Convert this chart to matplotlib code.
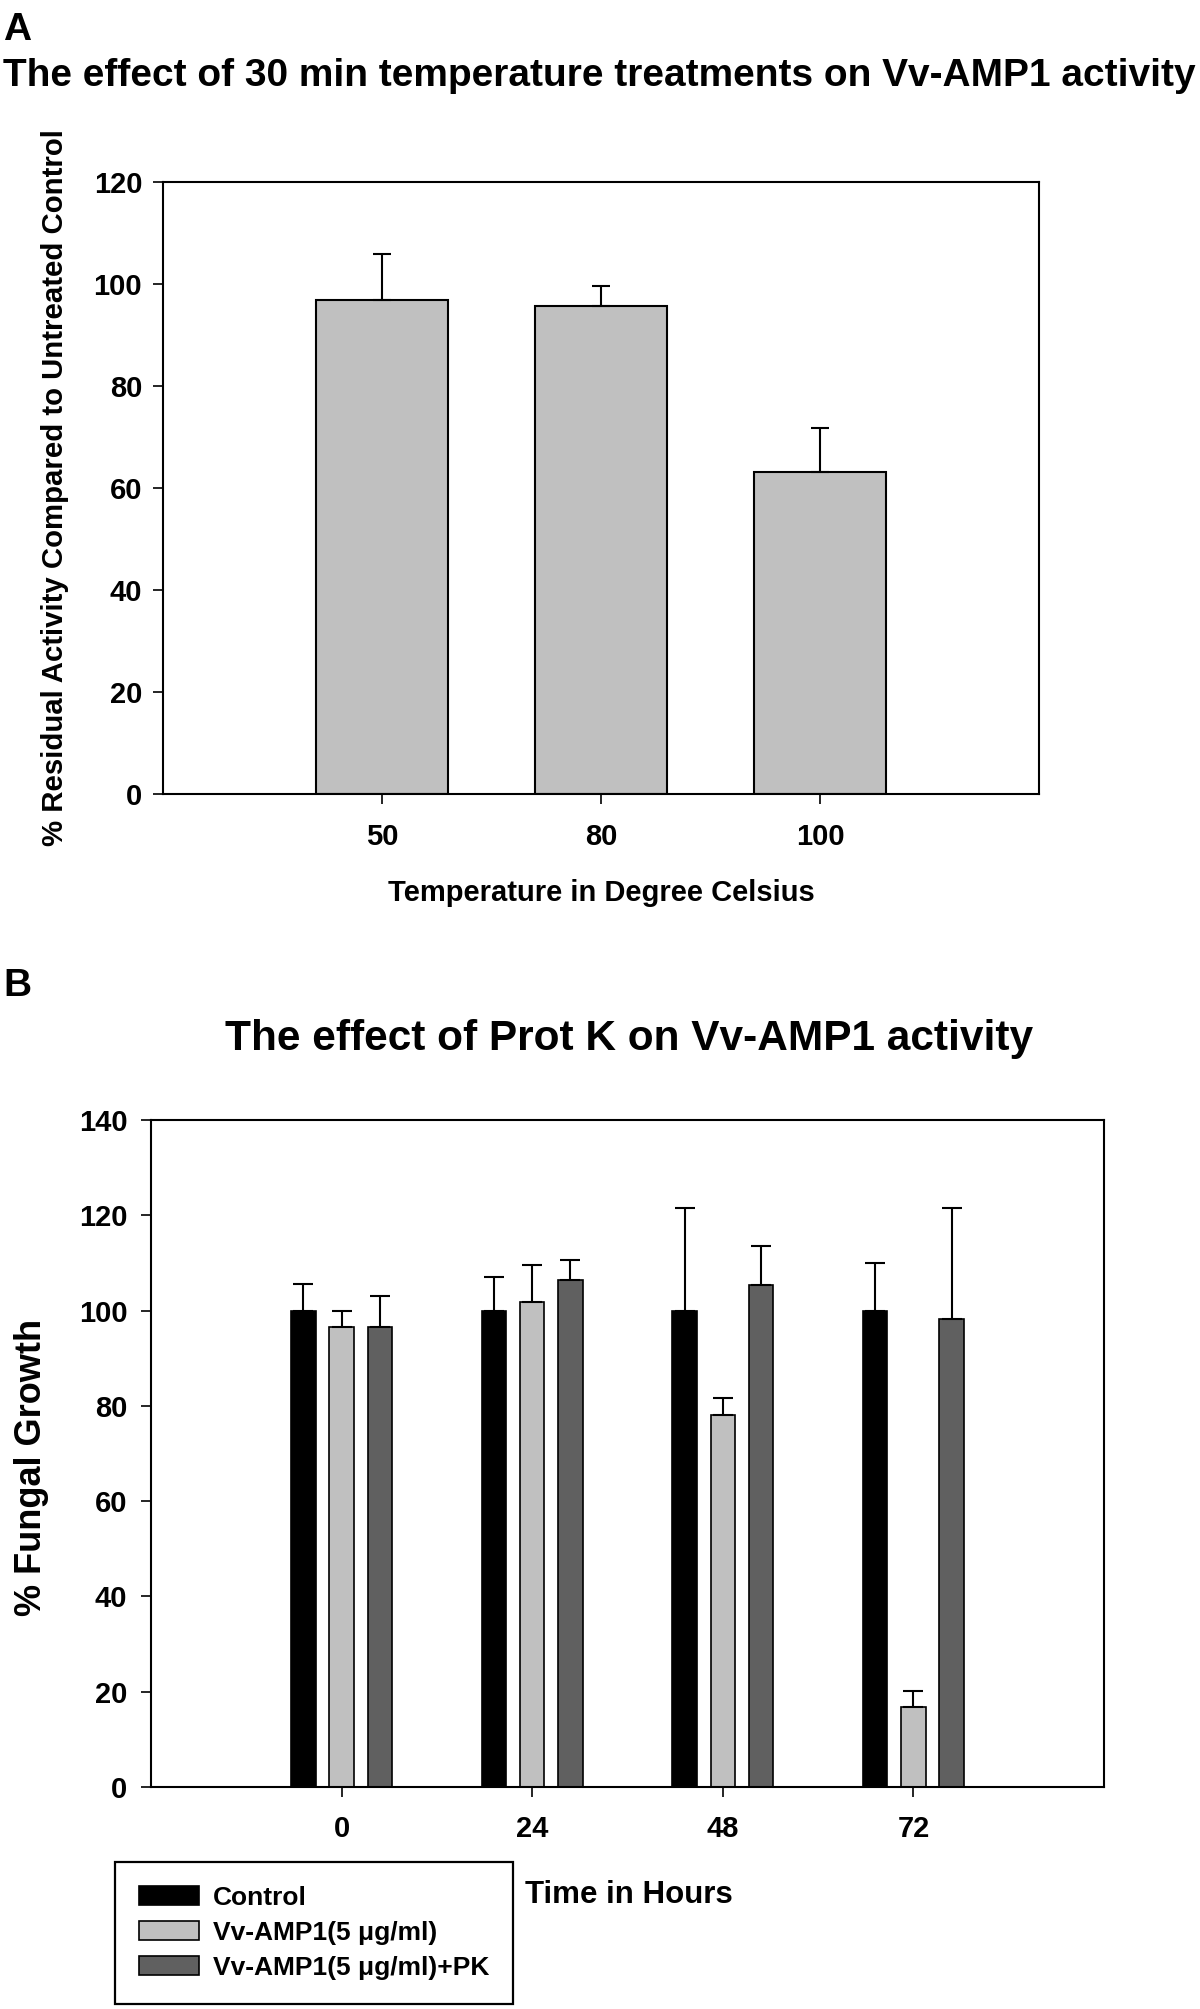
import numpy as np
import matplotlib
matplotlib.use("Agg")
import matplotlib.pyplot as plt
from matplotlib.patches import Patch

plt.rcParams['font.family'] = ['Liberation Sans', 'DejaVu Sans']
plt.rcParams['font.weight'] = 'bold'

# ---------------- data ----------------
temp_labels = ["50", "80", "100"]
temp_values = [96.8, 95.6, 63.1]
temp_err = [9.0, 4.0, 8.6]

time_labels = ["0", "24", "48", "72"]
control_values = [100, 100, 100, 100]
control_err = [5.5, 7.1, 21.6, 9.9]
amp_values = [96.5, 101.9, 78.1, 16.8]
amp_err = [3.5, 7.7, 3.5, 3.4]
amp_pk_values = [96.5, 106.4, 105.3, 98.2]
amp_pk_err = [6.5, 4.3, 8.3, 23.3]
series_names = ["Control", "Vv-AMP1(5 \u03bcg/ml)", "Vv-AMP1(5 \u03bcg/ml)+PK"]

W, H = 1200, 2009
fig = plt.figure(figsize=(W / 100, H / 100), dpi=100)


def fx(px):
    return px / W


def fy(py):
    return 1 - py / H


def style_axes(ax):
    for s in ax.spines.values():
        s.set_linewidth(1.5)
        s.set_color('black')
    ax.tick_params(axis='both', direction='out', length=7, width=1.2,
                   labelsize=21, color='black')
    for lab in ax.get_xticklabels() + ax.get_yticklabels():
        lab.set_fontweight('bold')


# ---------------- Panel A ----------------
axA = fig.add_axes([fx(163), fy(794), fx(1039 - 163), (794 - 182) / H])
xa = np.arange(len(temp_labels))
axA.bar(xa, temp_values, width=0.6, color='#c0c0c0', edgecolor='black',
        linewidth=1.5, zorder=2)
axA.errorbar(xa, temp_values, yerr=[np.zeros(len(temp_err)), temp_err],
             fmt='none', ecolor='black', elinewidth=1.5, capsize=6.5,
             capthick=1.5, zorder=3)
axA.set_xlim(-1, 3)
axA.set_ylim(0, 120)
axA.set_yticks(np.arange(0, 121, 20))
axA.set_xticks(xa)
axA.set_xticklabels(temp_labels)
style_axes(axA)
axA.tick_params(axis='x', pad=14)
axA.tick_params(axis='y', pad=8)
axA.set_xlabel("Temperature in Degree Celsius", fontsize=21, fontweight='bold',
               va='baseline')
axA.xaxis.set_label_coords(0.5, (794 - 901) / (794 - 182))
axA.set_ylabel("% Residual Activity Compared to Untreated Control", fontsize=21.2,
               fontweight='bold', va='center', ha='center')
axA.yaxis.set_label_coords((55 - 163) / (1039 - 163), 0.5)

fig.text(fx(3), fy(40), "A", fontsize=28, fontweight='bold', va='baseline', ha='left')
fig.text(fx(599), fy(86), "The effect of 30 min temperature treatments on Vv-AMP1 activity",
         fontsize=28, fontweight='bold', va='baseline', ha='center')

# ---------------- Panel B ----------------
axB = fig.add_axes([fx(151), fy(1787), fx(1104 - 151), (1787 - 1120) / H])
xb = np.arange(len(time_labels))
bw = 0.128
offs = [-0.2, 0.0, 0.2]
colors = ['black', '#c0c0c0', '#606060']
vals = [control_values, amp_values, amp_pk_values]
errs = [control_err, amp_err, amp_pk_err]
for off, col, v, e in zip(offs, colors, vals, errs):
    axB.bar(xb + off, v, width=bw, color=col, edgecolor='black', linewidth=1.2, zorder=2)
    axB.errorbar(xb + off, v, yerr=[np.zeros(len(e)), e], fmt='none', ecolor='black',
                 elinewidth=1.5, capsize=7.5, capthick=1.5, zorder=3)
axB.set_xlim(-1, 4)
axB.set_ylim(0, 140)
axB.set_yticks(np.arange(0, 141, 20))
axB.set_xticks(xb)
axB.set_xticklabels(time_labels)
style_axes(axB)
axB.tick_params(axis='x', pad=13)
axB.tick_params(axis='y', pad=10)
axB.set_ylabel("% Fungal Growth", fontsize=26, fontweight='bold', va='center', ha='center')
axB.yaxis.set_label_coords((32 - 151) / (1104 - 151), (1787 - 1467) / (1787 - 1120))
axB.set_xlabel("Time in Hours", fontsize=22.5, fontweight='bold', va='baseline')
axB.xaxis.set_label_coords((629 - 151) / (1104 - 151), (1787 - 1903) / (1787 - 1120))

fig.text(fx(3), fy(996), "B", fontsize=28, fontweight='bold', va='baseline', ha='left')
fig.text(fx(629), fy(1050), "The effect of Prot K on Vv-AMP1 activity",
         fontsize=30.5, fontweight='bold', va='baseline', ha='center')

handles = [Patch(facecolor=c, edgecolor='black', linewidth=1.2) for c in colors]
leg = fig.legend(handles, series_names, loc='upper left',
                 bbox_to_anchor=(fx(115), fy(1862)), bbox_transform=fig.transFigure,
                 fontsize=19, frameon=True, fancybox=False, edgecolor='black',
                 framealpha=1, handlelength=2.3, handleheight=0.76,
                 handletextpad=0.5, labelspacing=0.42, borderpad=0.9,
                 borderaxespad=0)
leg.get_frame().set_linewidth(1.6)
for t in leg.get_texts():
    t.set_fontweight('bold')

fig.savefig("out.png", dpi=100)
